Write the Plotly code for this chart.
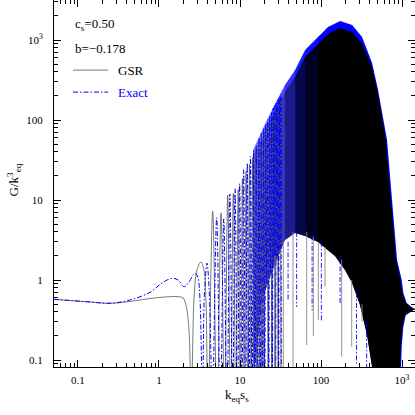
import numpy as np
import plotly.graph_objects as go

# values: x = k_eq s_s, y = G / k_eq^3

# smooth, low-k part of each curve (up to the first dives)
gsr_smooth_k = [0.0506, 0.080, 0.141, 0.249, 0.438, 0.774, 1.19, 1.72, 1.98, 2.15, 2.28, 2.38,
                2.50, 2.62, 2.70, 2.94, 3.30, 3.59, 3.80, 4.02]
gsr_smooth_G = [0.574, 0.554, 0.531, 0.512, 0.539, 0.587, 0.613, 0.619, 0.596, 0.487, 0.335, 0.178,
                0.02, 0.2, 0.56, 1.33, 1.68, 1.33, 0.56, 0.02]

exact_smooth_k = [0.0506, 0.080, 0.141, 0.249, 0.438, 0.774, 1.09, 1.45, 1.72, 2.04, 2.35, 2.63,
                  2.82, 3.03, 3.21, 3.32, 3.45, 3.62, 3.91, 4.15, 4.35, 4.55]
exact_smooth_G = [0.574, 0.554, 0.531, 0.512, 0.562, 0.702, 0.917, 1.05, 1.0, 0.825, 0.944, 1.155,
                  1.21, 1.06, 0.56, 0.15, 0.02, 0.6, 1.63, 0.8, 0.15, 0.02]

# resolved oscillations: maxima and minima
gsr_peak_k = [4.60, 5.83, 7.05, 8.27, 9.5, 10.7, 11.9, 13.1, 14.35, 15.55, 16.8, 18.0,
              19.2, 20.45, 21.65, 22.9, 24.1, 25.3, 26.55, 27.75, 29.0, 30.2, 31.4]
gsr_peak_G = [7.2, 6.9, 11.5, 12.1, 13.5, 18.5, 23, 28, 34, 40, 46, 54,
              62, 71, 80, 90, 100, 112, 124, 136, 148, 160, 172]
gsr_trough_k = [5.2, 6.44, 7.66, 8.88, 10.1, 11.3, 12.5, 13.72, 14.95, 16.18, 17.4, 18.6,
                19.82, 21.05, 22.28, 23.5, 24.7, 25.92, 27.15, 28.38, 29.6, 30.8, 32.0]
gsr_trough_G = [0.02, 0.02, 0.02, 0.02, 0.02, 0.02, 0.02, 0.02, 0.02, 0.02, 0.02, 0.02,
                0.02, 0.8, 0.02, 1.1, 0.02, 1.4, 0.02, 1.8, 0.02, 2.3, 0.02]

exact_peak_k = [5.15, 6.3, 7.5, 8.7, 9.9, 11.1, 12.3, 13.5, 14.7, 15.9, 17.15, 18.35,
                19.6, 20.8, 22.0, 23.25, 24.45, 25.7, 26.9, 28.1, 29.35, 30.55, 31.8]
exact_peak_G = [6.0, 5.8, 11.9, 13.8, 16, 24, 29, 35, 41, 48, 60, 68,
                79, 90, 101, 113, 126, 140, 153, 167, 181, 195, 210]
exact_trough_k = [5.72, 6.9, 8.1, 9.3, 10.5, 11.7, 12.9, 14.1, 15.3, 16.52, 17.75, 18.98,
                  20.2, 21.4, 22.62, 23.85, 25.08, 26.3, 27.5, 28.72, 29.95, 31.18, 32.4]
exact_trough_G = [0.02, 0.02, 0.02, 0.02, 0.02, 0.02, 0.02, 0.02, 0.02, 0.02, 0.02, 0.02,
                  0.02, 0.9, 0.02, 1.2, 0.02, 1.6, 0.02, 2.0, 0.02, 2.5, 0.02]

# unresolved region: upper envelopes, right-hand lower branches, and the floor of the dense band
exact_env_k = [14.5, 16.7, 20.4, 24.8, 35.9, 47.8, 63.5, 91.8, 122, 172, 242, 321, 427, 506,
               653, 753, 868, 991, 1038, 1142, 1380, 1489]
exact_env_G = [42.2, 57.9, 89.1, 133, 274, 422, 750, 1090, 1454, 1728, 1540, 1090, 516, 237,
               56.2, 10, 1.78, 1.0, 0.688, 0.516, 0.443, 0.434]
exact_low_k = [1380, 1113, 1038, 991, 977, 960]
exact_low_G = [0.42, 0.365, 0.261, 0.147, 0.082, 0.056]

gsr_env_k = [14.5, 16.7, 20.4, 24.8, 35.9, 47.8, 63.5, 91.8, 122, 172, 242, 321, 427, 506,
             632, 728, 842, 955, 1008, 1110, 1345, 1489]
gsr_env_G = [35.5, 47.3, 72.9, 109, 224, 345, 613, 891, 1189, 1413, 1259, 900, 450, 210,
             56.2, 10, 1.78, 1.0, 0.688, 0.516, 0.440, 0.430]
gsr_low_k = [1345, 1085, 1010, 965, 945, 930]
gsr_low_G = [0.418, 0.36, 0.256, 0.144, 0.082, 0.056]

floor_k = [14.5, 18.7, 24.8, 35.9, 47.8, 63.5, 91.8, 149, 198, 242, 303, 370, 427, 450]
floor_G = [0.05, 0.562, 1.26, 3.16, 3.87, 3.55, 2.98, 2.0, 1.33, 0.917, 0.487, 0.205, 0.082, 0.04]

# isolated deep minima inside the dense band
gsr_spike_k = [27.0, 34.2, 45.1, 66.6, 80.4, 92.6, 112, 180, 239, 321]
gsr_spike_top = [2.0, 3.0, 4.0, 4.0, 3.5, 3.0, 2.6, 1.8, 1.0, 0.5]
gsr_spike_low = [0.05, 0.05, 0.05, 0.154, 0.2, 0.316, 0.825, 0.11, 0.147, 0.3]

exact_spike_k = [39.2, 50.0, 77.6, 101, 172, 274, 366]
exact_spike_top = [3.0, 4.0, 3.6, 3.0, 2.0, 0.7, 0.3]
exact_spike_low = [0.56, 0.46, 0.42, 0.3, 0.5, 0.09, 0.07]

BLUE = "#0000ff"
GREY = "#555555"
DASHDOT = "5px,2px,1.5px,2px"


def merged(*parts):
    k = np.concatenate([np.asarray(p[0], float) for p in parts])
    g = np.concatenate([np.asarray(p[1], float) for p in parts])
    o = np.argsort(k, kind="stable")
    return k[o], g[o]


def zone(top_k, top_G, k0, k1, extra_k=(), extra_G=()):
    tk, tg = np.array(top_k), np.array(top_G)
    fk, fg = np.array(floor_k), np.array(floor_G)
    mt = (tk >= k0) & (tk <= k1)
    mf = (fk >= k0) & (fk <= k1)
    xs = list(tk[mt]) + list(extra_k) + list(fk[mf][::-1])
    ys = list(tg[mt]) + list(extra_G) + list(fg[mf][::-1])
    return xs, ys


fig = go.Figure()

# dense band: blue below, black on top, getting darker with k
zones = [(14.5, 24.8, 0.55, 0.12), (24.8, 35.9, 0.7, 0.28), (35.9, 47.8, 0.8, 0.45),
         (47.8, 63.5, 0.9, 0.7), (63.5, 91.8, 0.95, 0.85), (91.8, 2000, 1.0, 1.0)]
for k0, k1, ab, ak in zones:
    last = k1 > 1000
    xs, ys = zone(exact_env_k, exact_env_G, k0, k1,
                  exact_low_k if last else (), exact_low_G if last else ())
    fig.add_trace(go.Scatter(x=xs, y=ys, fill="toself", mode="lines", line=dict(width=0),
                             fillcolor=f"rgba(0,0,255,{ab})", hoverinfo="skip", showlegend=False))
for k0, k1, ab, ak in zones:
    last = k1 > 1000
    xs, ys = zone(gsr_env_k, gsr_env_G, k0, k1,
                  gsr_low_k if last else (), gsr_low_G if last else ())
    fig.add_trace(go.Scatter(x=xs, y=ys, fill="toself", mode="lines", line=dict(width=0),
                             fillcolor=f"rgba(0,0,0,{ak})", hoverinfo="skip", showlegend=False))

# resolved curves
gk, gG = merged((gsr_smooth_k, gsr_smooth_G), (gsr_peak_k, gsr_peak_G), (gsr_trough_k, gsr_trough_G))
ek, eG = merged((exact_smooth_k, exact_smooth_G), (exact_peak_k, exact_peak_G),
                (exact_trough_k, exact_trough_G))
fig.add_trace(go.Scatter(x=gk, y=gG, mode="lines", name="GSR",
                         line=dict(color=GREY, width=0.8, shape="spline", smoothing=1.0)))
fig.add_trace(go.Scatter(x=ek, y=eG, mode="lines", name="Exact",
                         line=dict(color=BLUE, width=1, dash=DASHDOT, shape="spline", smoothing=1.0)))


def spikes(ks, tops, lows):
    xs, ys = [], []
    for k, t, l in zip(ks, tops, lows):
        xs += [k, k, None]
        ys += [t, l, None]
    return xs, ys


sx, sy = spikes(gsr_spike_k, gsr_spike_top, gsr_spike_low)
fig.add_trace(go.Scatter(x=sx, y=sy, mode="lines", line=dict(color="#888888", width=0.9),
                         hoverinfo="skip", showlegend=False))
sx, sy = spikes(exact_spike_k, exact_spike_top, exact_spike_low)
fig.add_trace(go.Scatter(x=sx, y=sy, mode="lines", line=dict(color=BLUE, width=0.9, dash=DASHDOT),
                         hoverinfo="skip", showlegend=False))

FONT = "Liberation Serif"
axis_common = dict(type="log", showgrid=False, zeroline=False, showline=True, linecolor="black",
                   linewidth=1, mirror="allticks", ticks="inside", ticklen=7, tickcolor="black",
                   tickwidth=1, tickfont=dict(family=FONT, size=11, color="black"),
                   tickmode="array", tickvals=[0.1, 1, 10, 100, 1000],
                   ticktext=["0.1", "1", "10", "100", "10<sup>3</sup>"],
                   minor=dict(ticks="inside", ticklen=4, dtick="D1", tickcolor="black", showgrid=False))

fig.update_layout(
    width=415, height=415,
    margin=dict(l=54, r=0, t=0, b=48),
    paper_bgcolor="white", plot_bgcolor="white",
    showlegend=False,
    xaxis=dict(range=[-1.296, 3.160], ticklabelstandoff=3, **axis_common),
    yaxis=dict(range=[-1.0875, 3.5], ticklabelstandoff=8, **axis_common),
)

txt = dict(family=FONT, size=13, color="black")
ann = [
    dict(x=0.0526, y=0.932, text="c<sub>s</sub>=0.50"),
    dict(x=0.0526, y=0.869, text="b=\u22120.178"),
    dict(x=0.1717, y=0.809, text="GSR"),
    dict(x=0.1717, y=0.749, text="Exact", font=dict(family=FONT, size=13, color=BLUE)),
]
for a in ann:
    fig.add_annotation(xref="paper", yref="paper", xanchor="left", yanchor="middle",
                       showarrow=False, font=a.pop("font", txt), **a)

fig.add_annotation(xref="paper", yref="paper", x=0.507, y=-0.079, text="k<sub>eq</sub>s<sub>s</sub>",
                   showarrow=False, font=txt, xanchor="center", yanchor="middle")
fig.add_annotation(xref="paper", yref="paper", x=-0.112, y=0.51,
                   text="G/k<sup>3</sup><sub>eq</sub>", textangle=-90,
                   showarrow=False, font=txt, xanchor="center", yanchor="middle")

fig.add_shape(type="line", xref="paper", yref="paper", x0=0.0526, x1=0.1496, y0=0.809, y1=0.809,
              line=dict(color=GREY, width=0.8))
fig.add_shape(type="line", xref="paper", yref="paper", x0=0.0526, x1=0.1496, y0=0.749, y1=0.749,
              line=dict(color=BLUE, width=1, dash=DASHDOT))

# page has a default body margin; drop it so the 415px figure fills the window exactly
fig.write_html("out.html", config={"displayModeBar": False},
               post_script="document.body.style.margin='0';")
